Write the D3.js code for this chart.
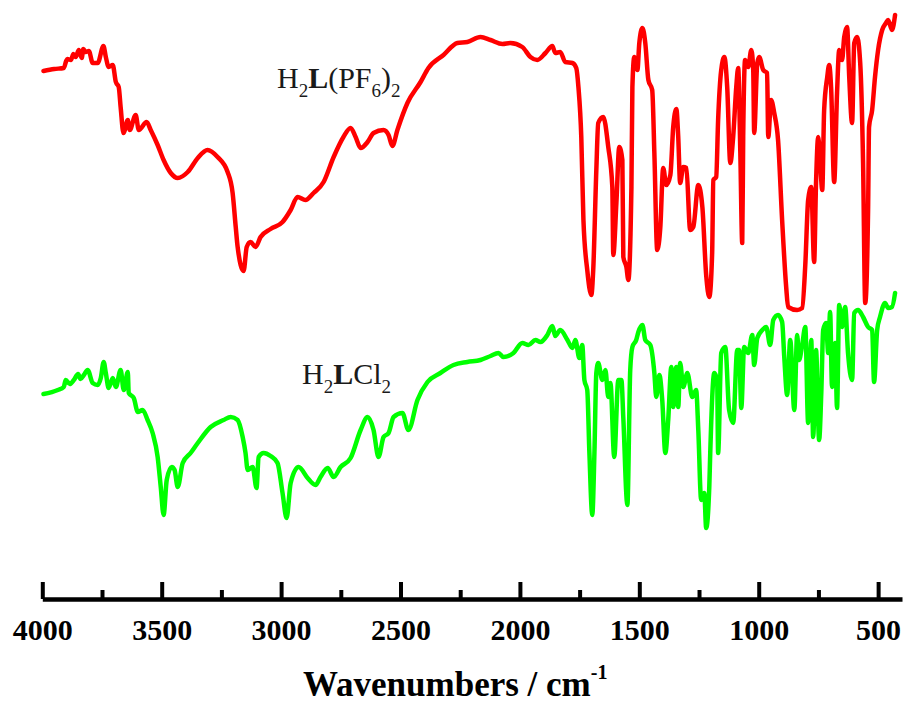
<!DOCTYPE html>
<html>
<head>
<meta charset="utf-8">
<script src="https://cdn.jsdelivr.net/npm/d3@7"></script>
<style>
  body { margin: 0; background: #fff; }
  svg { display: block; }
</style>
</head>
<body>
<svg id="chart" width="905" height="704"></svg>
<script>
// IR spectra, [wavenumber (cm-1), transmittance (arb. units, offset)]
const pf6Spectrum = [
  [3995, 52.9], [3950, 53.1], [3910, 53.2], [3900, 53.9], [3895, 54.1], [3880, 54.0],
  [3870, 54.6], [3860, 54.3], [3847, 55.0], [3835, 54.2], [3828, 55.1], [3818, 54.8],
  [3805, 54.9], [3789, 53.7], [3768, 53.7], [3744, 55.4], [3734, 54.3], [3722, 53.3],
  [3705, 53.5], [3692, 51.8],
  [3680, 51.3], [3672, 49.3], [3660, 46.7], [3642, 48.0], [3634, 47.0], [3609, 48.5],
  [3596, 47.0], [3563, 47.8], [3546, 47.0], [3517, 45.5], [3492, 44.0], [3462, 42.7],
  [3433, 42.2], [3391, 42.8], [3349, 44.2], [3308, 45.0], [3266, 44.3], [3224, 42.8],
  [3203, 40.7], [3190, 37.3], [3182, 35.3], [3157, 32.9], [3144, 35.3], [3128, 35.8],
  [3107, 35.3], [3086, 36.3], [3044, 37.1], [2994, 37.8], [2960, 39.0], [2931, 40.3],
  [2898, 40.0], [2864, 40.7], [2822, 41.8], [2780, 44.3], [2739, 46.3], [2709, 47.2],
  [2688, 46.3], [2667, 45.2], [2638, 45.8], [2613, 46.7], [2571, 47.0], [2550, 46.5],
  [2534, 45.4], [2513, 47.0], [2471, 49.7], [2416, 51.8], [2383, 53.2], [2320, 54.5],
  [2262, 55.7], [2220, 55.8], [2165, 56.3], [2123, 56.0], [2073, 55.6], [2040, 55.7],
  [1990, 55.3], [1956, 54.3], [1927, 54.0], [1893, 54.7], [1864, 55.4], [1852, 54.7],
  [1831, 54.8], [1810, 53.8], [1780, 53.7], [1764, 53.2], [1755, 51.3], [1743, 46.3],
  [1734, 38.0], [1718, 33.0], [1701, 30.5], [1693, 33.0], [1680, 43.0], [1672, 47.7],
  [1651, 48.3], [1630, 45.3], [1613, 41.3], [1609, 34.5], [1596, 39.7], [1584, 45.3],
  [1571, 44.0], [1567, 34.3], [1554, 33.3], [1546, 32.0], [1533, 41.3], [1529, 51.3],
  [1521, 54.3], [1508, 53.0], [1500, 55.7], [1487, 57.2], [1475, 55.7], [1462, 52.0],
  [1446, 51.0], [1437, 44.7], [1425, 35.0], [1412, 37.3], [1400, 43.2], [1387, 41.5],
  [1370, 42.5], [1358, 47.3], [1345, 49.1], [1337, 46.3], [1329, 41.7], [1316, 43.3],
  [1303, 43.2], [1287, 37.0], [1274, 37.3], [1253, 41.5], [1236, 39.3], [1220, 32.5],
  [1207, 30.3], [1195, 34.7], [1190, 42.0], [1178, 42.3], [1170, 48.0], [1157, 53.0],
  [1144, 54.3], [1132, 51.3], [1119, 43.7], [1107, 46.3], [1094, 51.3], [1086, 53.2],
  [1077, 44.7], [1069, 35.7], [1065, 46.3], [1057, 54.0], [1044, 53.3], [1031, 55.0],
  [1023, 53.0], [1019, 46.7], [1006, 53.7], [998, 54.3], [981, 53.0], [965, 52.7],
  [960, 46.3], [948, 50.0], [935, 48.7], [919, 46.0], [902, 38.0], [885, 31.3],
  [877, 29.3], [839, 29.0], [818, 29.2], [805, 33.5], [793, 40.0], [780, 41.3],
  [768, 33.8], [760, 41.7], [751, 46.3], [743, 44.0], [734, 41.0], [726, 49.0],
  [713, 52.3], [705, 53.5], [697, 51.3], [684, 41.8], [672, 50.7], [663, 55.0],
  [651, 54.0], [642, 56.3], [630, 57.3], [621, 52.3], [609, 47.7], [600, 55.7],
  [588, 56.3], [575, 53.7], [563, 43.7], [554, 29.7], [542, 39.0], [538, 47.3],
  [525, 49.0], [513, 52.3], [500, 55.0], [483, 57.0], [467, 57.7], [458, 58.0],
  [442, 57.0], [429, 58.5]
];

const clSpectrum = [
  [3995, 20.6], [3935, 21.0], [3910, 21.3], [3902, 22.0], [3885, 21.6], [3868, 22.0],
  [3850, 22.6], [3840, 22.1], [3826, 22.5], [3810, 23.0],
  [3789, 21.7], [3768, 21.5], [3755, 22.2], [3743, 23.8], [3734, 22.7], [3722, 21.2],
  [3705, 22.2], [3692, 21.3], [3672, 23.0], [3659, 21.0], [3642, 22.8], [3638, 20.7],
  [3617, 20.2], [3600, 18.8], [3580, 19.0], [3559, 18.0], [3538, 16.7], [3517, 14.3],
  [3504, 11.3], [3492, 8.5], [3479, 12.0], [3458, 13.3], [3446, 13.0], [3433, 11.3],
  [3412, 13.7], [3379, 14.7], [3349, 15.7], [3295, 17.3], [3241, 18.0], [3211, 18.3],
  [3182, 18.0], [3161, 16.3], [3149, 14.7], [3140, 13.0], [3119, 13.3], [3103, 11.2],
  [3094, 14.3], [3073, 14.7], [3044, 14.4], [3015, 13.7], [2994, 10.7], [2977, 8.2],
  [2960, 11.7], [2927, 13.3], [2889, 12.2], [2856, 11.5], [2835, 12.3], [2805, 13.2],
  [2780, 12.3], [2751, 13.3], [2709, 14.2], [2667, 17.0], [2638, 18.3], [2613, 17.0],
  [2592, 14.3], [2571, 16.3], [2550, 16.7], [2529, 18.3], [2492, 18.7], [2467, 17.0],
  [2429, 20.0], [2387, 21.8], [2333, 22.7], [2278, 23.5], [2220, 23.8], [2165, 24.0],
  [2123, 24.4], [2090, 24.7], [2069, 24.3], [2027, 24.7], [1990, 25.7], [1964, 25.5],
  [1935, 26.0], [1914, 25.8], [1885, 26.5], [1864, 27.4], [1852, 26.4], [1831, 27.0],
  [1801, 26.0], [1780, 25.2], [1768, 26.0], [1751, 24.2], [1739, 25.5], [1730, 22.0],
  [1718, 21.0], [1709, 14.7], [1697, 8.5], [1688, 14.7], [1680, 22.7], [1672, 23.7],
  [1655, 22.0], [1642, 23.0], [1630, 20.3], [1621, 21.7], [1605, 14.3], [1588, 22.0],
  [1575, 22.0], [1567, 18.2], [1550, 9.5], [1538, 23.0], [1529, 25.3], [1513, 26.0],
  [1504, 26.8], [1487, 27.5], [1475, 26.0], [1454, 25.5], [1437, 22.7], [1429, 20.3],
  [1416, 22.5], [1404, 20.0], [1391, 14.7], [1379, 18.0], [1366, 23.3], [1358, 19.3],
  [1345, 23.3], [1337, 19.3], [1329, 23.7], [1316, 21.3], [1299, 22.7], [1278, 20.3],
  [1262, 21.0], [1253, 17.0], [1241, 10.0], [1228, 10.7], [1220, 7.2], [1207, 11.3],
  [1203, 14.7], [1186, 22.7], [1174, 22.0], [1170, 14.7], [1157, 24.7], [1140, 25.3],
  [1124, 19.0], [1107, 17.7], [1090, 25.0], [1082, 25.0], [1073, 19.2], [1061, 25.3],
  [1044, 24.7], [1027, 26.5], [1019, 23.5], [1006, 26.2], [985, 27.0], [969, 27.3],
  [952, 25.5], [939, 28.0], [919, 28.5], [902, 27.8], [893, 24.3], [881, 20.5],
  [868, 26.0], [851, 19.0], [839, 26.5], [831, 24.0], [818, 25.5], [805, 27.3],
  [793, 17.7], [780, 26.0], [772, 16.3], [760, 25.0], [747, 16.0], [738, 20.7],
  [730, 27.0], [718, 27.7], [709, 24.7], [701, 28.8], [693, 21.3], [680, 25.7],
  [672, 19.2], [663, 29.5], [651, 27.3], [638, 29.3], [626, 24.7], [609, 22.0],
  [600, 28.7], [584, 29.0], [563, 28.3], [542, 27.3], [525, 27.0], [517, 21.8],
  [504, 27.0], [492, 28.3], [471, 29.7], [458, 29.2], [442, 29.3], [429, 30.7]
];

const majorTicks = [4000, 3500, 3000, 2500, 2000, 1500, 1000, 500];
const minorTicks = [3750, 3250, 2750, 2250, 1750, 1250, 750];

const svg = d3.select("#chart");
const axisY = 599;
const serif = "'Liberation Serif', 'Times New Roman', serif";

const x = d3.scaleLinear().domain([4000, 400]).range([42.3, 902]);
const y = d3.scaleLinear().domain([0, 60]).range([600, 0]);

const line = d3.line()
  .x(d => x(d[0]))
  .y(d => y(d[1]))
  .curve(d3.curveMonotoneX);

// spectra
[[pf6Spectrum, "#ff0000"], [clSpectrum, "#00ff00"]].forEach(([data, color]) => {
  svg.append("path")
    .datum(data)
    .attr("fill", "none")
    .attr("stroke", color)
    .attr("stroke-width", 4.5)
    .attr("stroke-linejoin", "round")
    .attr("stroke-linecap", "round")
    .attr("d", line);
});

// x axis, ticks pointing up into the plot
const minorAxis = svg.append("g")
  .attr("transform", `translate(0,${axisY})`)
  .call(d3.axisBottom(x).tickValues(minorTicks).tickSize(-9).tickSizeOuter(0).tickFormat(""));
minorAxis.select(".domain").remove();
minorAxis.selectAll(".tick line").attr("stroke", "#000").attr("stroke-width", 4);

const majorAxis = svg.append("g")
  .attr("transform", `translate(0,${axisY})`)
  .call(d3.axisBottom(x)
    .tickValues(majorTicks)
    .tickFormat(d3.format("d"))
    .tickSize(-17)
    .tickSizeOuter(0)
    .tickPadding(20));
majorAxis.select(".domain").attr("stroke", "#000").attr("stroke-width", 4.5);
majorAxis.selectAll(".tick line").attr("stroke", "#000").attr("stroke-width", 4);
majorAxis.selectAll(".tick text")
  .attr("fill", "#000")
  .style("font-family", serif)
  .style("font-weight", "bold")
  .style("font-size", "30px");

// axis title
const title = svg.append("text")
  .attr("x", 303)
  .attr("y", 696)
  .attr("fill", "#000")
  .style("font-family", serif)
  .style("font-weight", "bold")
  .style("font-size", "35px");
title.append("tspan").text("Wavenumbers / cm");
title.append("tspan").text("-1").attr("dy", -17).style("font-size", "20px");

// series labels
function addLabel(tx, ty, parts) {
  const t = svg.append("text")
    .attr("x", tx)
    .attr("y", ty)
    .attr("fill", "#1a1a1a")
    .style("font-family", serif)
    .style("font-size", "30px");
  let shift = 0;
  parts.forEach(p => {
    const sub = p.type === "sub";
    const target = sub ? 9 : 0;
    t.append("tspan")
      .text(p.text)
      .attr("dy", target - shift)
      .style("font-size", sub ? "19px" : "30px")
      .style("font-weight", p.type === "bold" ? "bold" : "normal");
    shift = target;
  });
}

addLabel(277, 88, [
  { text: "H" }, { text: "2", type: "sub" }, { text: "L", type: "bold" },
  { text: "(PF" }, { text: "6", type: "sub" }, { text: ")" }, { text: "2", type: "sub" }
]);

addLabel(302, 384, [
  { text: "H" }, { text: "2", type: "sub" }, { text: "L", type: "bold" },
  { text: "Cl" }, { text: "2", type: "sub" }
]);
</script>
</body>
</html>
